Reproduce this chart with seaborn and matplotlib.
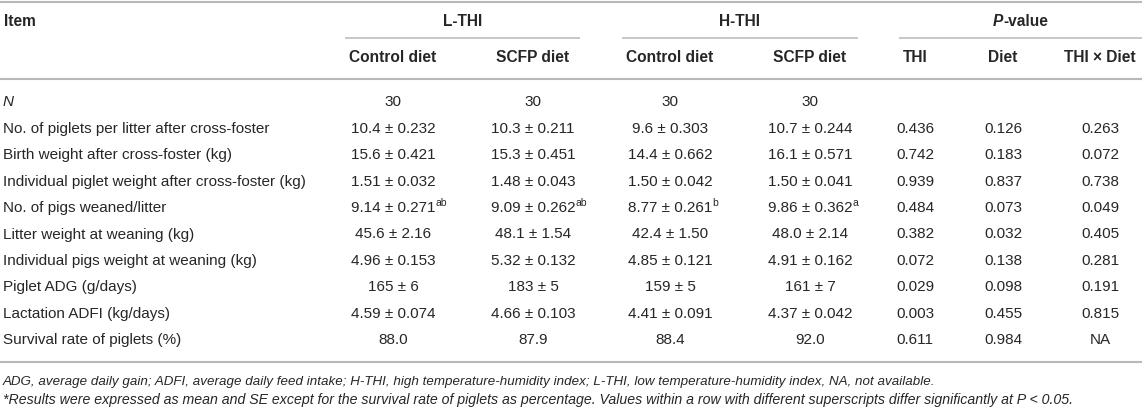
import matplotlib
matplotlib.use("Agg")
import matplotlib.pyplot as plt
import seaborn as sns

# ---------------- data ----------------
items = [
    "N",
    "No. of piglets per litter after cross-foster",
    "Birth weight after cross-foster (kg)",
    "Individual piglet weight after cross-foster (kg)",
    "No. of pigs weaned/litter",
    "Litter weight at weaning (kg)",
    "Individual pigs weight at weaning (kg)",
    "Piglet ADG (g/days)",
    "Lactation ADFI (kg/days)",
    "Survival rate of piglets (%)",
]
lthi_control = ["30", "10.4 ± 0.232", "15.6 ± 0.421", "1.51 ± 0.032", "9.14 ± 0.271",
                "45.6 ± 2.16", "4.96 ± 0.153", "165 ± 6", "4.59 ± 0.074", "88.0"]
lthi_scfp = ["30", "10.3 ± 0.211", "15.3 ± 0.451", "1.48 ± 0.043", "9.09 ± 0.262",
             "48.1 ± 1.54", "5.32 ± 0.132", "183 ± 5", "4.66 ± 0.103", "87.9"]
hthi_control = ["30", "9.6 ± 0.303", "14.4 ± 0.662", "1.50 ± 0.042", "8.77 ± 0.261",
                "42.4 ± 1.50", "4.85 ± 0.121", "159 ± 5", "4.41 ± 0.091", "88.4"]
hthi_scfp = ["30", "10.7 ± 0.244", "16.1 ± 0.571", "1.50 ± 0.041", "9.86 ± 0.362",
             "48.0 ± 2.14", "4.91 ± 0.162", "161 ± 7", "4.37 ± 0.042", "92.0"]
p_thi = ["", "0.436", "0.742", "0.939", "0.484", "0.382", "0.072", "0.029", "0.003", "0.611"]
p_diet = ["", "0.126", "0.183", "0.837", "0.073", "0.032", "0.138", "0.098", "0.455", "0.984"]
p_inter = ["", "0.263", "0.072", "0.738", "0.049", "0.405", "0.281", "0.191", "0.815", "NA"]
# superscripts (row index 4: No. of pigs weaned/litter)
sup_lc = {4: "ab"}
sup_ls = {4: "ab"}
sup_hc = {4: "b"}
sup_hs = {4: "a"}

groups = ["L-THI", "H-THI", "P-value"]
subheaders = ["Control diet", "SCFP diet", "Control diet", "SCFP diet", "THI", "Diet", "THI × Diet"]
footnotes = [
    "ADG, average daily gain; ADFI, average daily feed intake; H-THI, high temperature-humidity index; "
    "L-THI, low temperature-humidity index, NA, not available.",
    "*Results were expressed as mean and SE except for the survival rate of piglets as percentage. "
    "Values within a row with different superscripts differ significantly at P < 0.05.",
]

# ---------------- style ----------------
sns.set_theme(style="white")
plt.rcParams["font.family"] = ["Liberation Sans", "DejaVu Sans"]
plt.rcParams["mathtext.fontset"] = "custom"
plt.rcParams["mathtext.bfit"] = "Liberation Sans:italic:bold"

W, H = 1142, 408
fig = plt.figure(figsize=(W / 100, H / 100), dpi=100)
ax = fig.add_axes([0, 0, 1, 1])
ax.set_xlim(0, W)
ax.set_ylim(H, 0)
ax.axis("off")

TXT = "#262626"
LINE = "#b8b8b8"
FS = 11.0
FS_HEAD = 11.2
FS_FOOT = [9.6, 10.2]

col_x = [393, 533, 670, 810, 915, 1003, 1100]
group_spans = [(345, 580), (622, 858), (899, 1142)]

# top rule
ax.plot([0, W], [1.5, 1.5], color=LINE, lw=1.5, solid_capstyle="butt")

# header row 1
ax.text(4, 22, "Item", fontsize=FS_HEAD, fontweight="bold", color=TXT, ha="left", va="center")
for (x0, x1), g in zip(group_spans, groups):
    xc = (x0 + x1) / 2
    if g == "P-value":
        t1 = ax.text(xc, 22, "-value", fontsize=FS_HEAD, fontweight="bold", color=TXT,
                     ha="left", va="center")
        # italic bold P before "-value"; shift pair to be centred
        fig.canvas.draw()
        r = fig.canvas.get_renderer()
        tp = ax.text(xc, 22, "P", fontsize=FS_HEAD, fontweight="bold", style="italic",
                     color=TXT, ha="right", va="center")
        wv = t1.get_window_extent(r).width
        wp = tp.get_window_extent(r).width
        shift = (wp - wv) / 2
        t1.set_x(xc + shift)
        tp.set_x(xc + shift)
    else:
        ax.text(xc, 22, g, fontsize=FS_HEAD, fontweight="bold", color=TXT, ha="center", va="center")
    ax.plot([x0, x1], [38, 38], color=LINE, lw=1.1, solid_capstyle="butt")

# header row 2
for x, s in zip(col_x, subheaders):
    ax.text(x, 58, s, fontsize=FS_HEAD, fontweight="bold", color=TXT, ha="center", va="center")

ax.plot([0, W], [79, 79], color=LINE, lw=1.5, solid_capstyle="butt")

# body
row_y0 = 102.5
row_dy = 26.4
columns = [lthi_control, lthi_scfp, hthi_control, hthi_scfp, p_thi, p_diet, p_inter]
sups = [sup_lc, sup_ls, sup_hc, sup_hs, {}, {}, {}]
for i, item in enumerate(items):
    y = row_y0 + i * row_dy
    ax.text(3, y, item, fontsize=FS, style="italic" if item == "N" else "normal",
            color=TXT, ha="left", va="center")
    for x, col, sp in zip(col_x, columns, sups):
        if col[i] == "":
            continue
        t = ax.text(x, y, col[i], fontsize=FS, color=TXT, ha="center", va="center")
        if i in sp:
            ax.annotate(sp[i], xy=(1.0, 0.5), xycoords=t, fontsize=FS * 0.68, color=TXT,
                        ha="left", va="bottom", xytext=(0.3, 0), textcoords="offset points")

ax.plot([0, W], [362, 362], color=LINE, lw=1.5, solid_capstyle="butt")

# footnotes
ax.text(3, 382, footnotes[0], fontsize=FS_FOOT[0], style="italic", color=TXT, ha="left", va="center")
ax.text(3, 400, footnotes[1], fontsize=FS_FOOT[1], style="italic", color=TXT, ha="left", va="center")

fig.savefig("out.png", dpi=100, facecolor="white")
